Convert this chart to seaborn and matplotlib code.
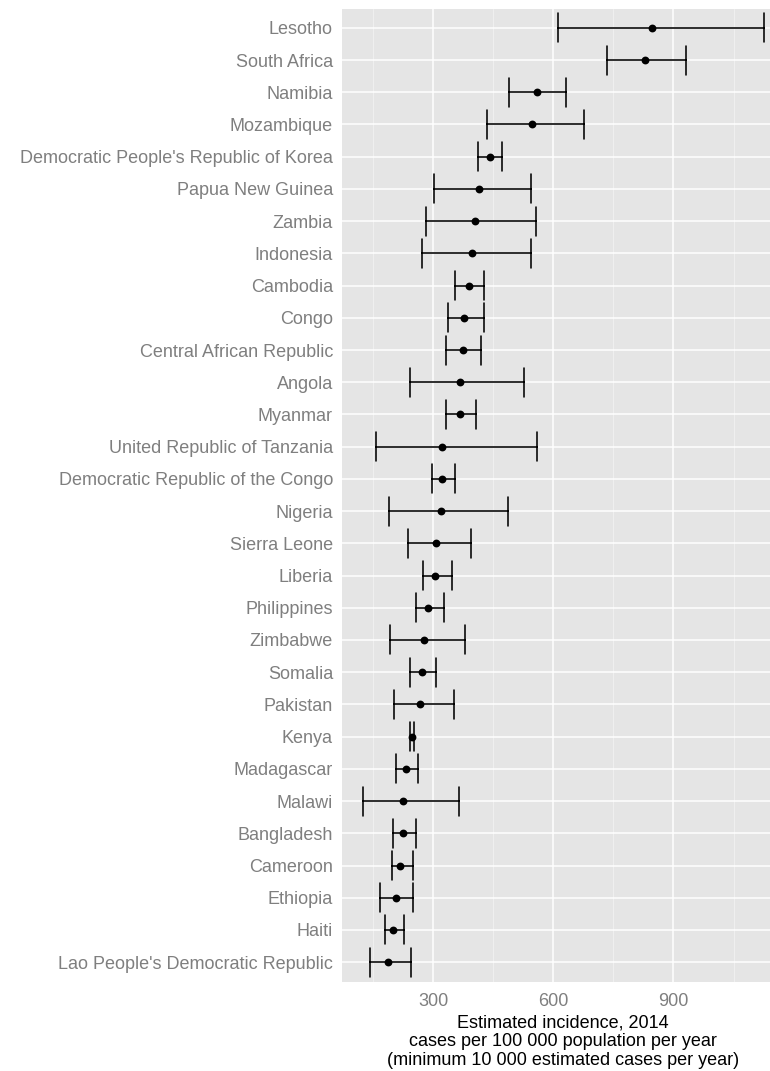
import numpy as np
import pandas as pd
import seaborn as sns
import matplotlib.pyplot as plt

# countries from top to bottom (sorted by estimated incidence)
countries = ["Lesotho", "South Africa", "Namibia", "Mozambique",
             "Democratic People's Republic of Korea", "Papua New Guinea",
             "Zambia", "Indonesia", "Cambodia", "Congo",
             "Central African Republic", "Angola", "Myanmar",
             "United Republic of Tanzania", "Democratic Republic of the Congo",
             "Nigeria", "Sierra Leone", "Liberia", "Philippines", "Zimbabwe",
             "Somalia", "Pakistan", "Kenya", "Madagascar", "Malawi",
             "Bangladesh", "Cameroon", "Ethiopia", "Haiti",
             "Lao People's Democratic Republic"]
# best estimate, low and high bound
e_inc = [846, 828, 558, 546, 441, 415, 403, 397, 389, 377, 374, 367, 367, 323, 323,
         320, 308, 305, 287, 276, 272, 268, 246, 232, 225, 225, 217, 206, 199, 187]
e_lo = [611, 735, 490, 435, 412, 303, 282, 273, 354, 336, 332, 241, 332, 157, 296,
        190, 237, 274, 257, 193, 241, 201, 241, 208, 124, 199, 197, 168, 179, 142]
e_hi = [1126, 932, 632, 677, 472, 545, 556, 545, 427, 427, 420, 526, 406, 560, 354,
        486, 395, 347, 326, 380, 307, 351, 251, 263, 365, 256, 249, 249, 226, 245]

# long table: three values per country, the median is the estimate, min/max the bounds
df = pd.DataFrame({
    "country": countries * 3,
    "value": e_lo + e_inc + e_hi,
})

sns.set_style("darkgrid", {"axes.facecolor": "#E5E5E5", "grid.color": "white"})
plt.rcParams["font.family"] = ["Liberation Sans", "DejaVu Sans"]

fig = plt.figure(figsize=(7.7, 10.71), dpi=100)
ax = fig.add_axes([342 / 770, 1 - 981.5 / 1071, 442 / 770, 973 / 1071])

sns.pointplot(data=df, x="value", y="country", order=countries,
              estimator="median", errorbar=lambda v: (v.min(), v.max()),
              capsize=0.9, color="black", linestyle="none", markers="o",
              markersize=3.6, err_kws={"linewidth": 1.15, "color": "black"}, ax=ax)

n = len(countries)
ax.set_ylim(n - 1 + 0.6, -0.6)
ax.set_xlim(72, 1176)
ax.set_xticks([300, 600, 900])
ax.set_xticks([150, 450, 750, 1050], minor=True)
ax.grid(True, which="major", color="white", linewidth=1.1)
ax.grid(True, which="minor", axis="x", color="#F2F2F2", linewidth=0.6)
ax.set_axisbelow(True)
for s in ax.spines.values():
    s.set_visible(False)

ax.tick_params(axis="both", which="major", length=3.5, width=0.8, color="#7F7F7F",
               labelcolor="#7F7F7F", labelsize=13, pad=3)
ax.tick_params(axis="x", which="major", pad=5)
ax.tick_params(axis="x", which="minor", length=0)
ax.set_ylabel("")
ax.set_xlabel("Estimated incidence, 2014\ncases per 100 000 population per year\n"
              "(minimum 10 000 estimated cases per year)",
              fontsize=13, color="black", linespacing=1.12, labelpad=3)

fig.savefig("out.png", dpi=100)
